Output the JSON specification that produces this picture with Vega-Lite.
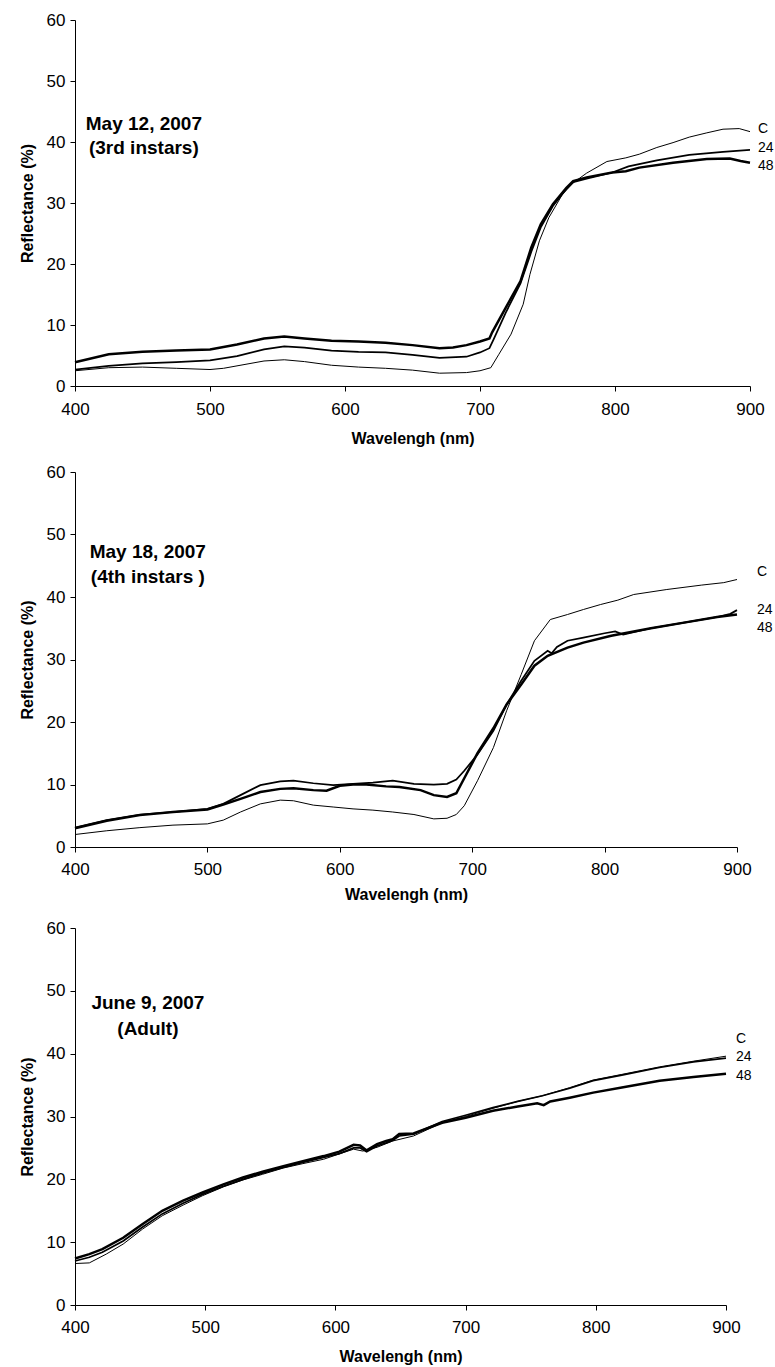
{
  "$schema": "https://vega.github.io/schema/vega-lite/v6.json",
  "background": "white",
  "padding": {"left": 19, "top": 11, "right": 2, "bottom": 2},
  "config": {
    "view": {"stroke": null},
    "font": "Liberation Sans",
    "concat": {"spacing": 17},
    "axis": {
      "grid": false,
      "domainColor": "#000",
      "tickColor": "#000",
      "tickSize": 5,
      "labelFont": "Liberation Sans",
      "labelFontSize": 17,
      "labelColor": "#000",
      "labelFlush": false,
      "titleFont": "Liberation Sans",
      "titleFontSize": 16,
      "titleFontWeight": "bold",
      "titleColor": "#000"
    },
    "text": {"font": "Liberation Sans", "color": "#000"}
  },
  "datasets": {
    "p1": [
      {"w":400,"r":2.5,"s":"C"},{"w":425,"r":3.0,"s":"C"},{"w":450,"r":3.1,"s":"C"},{"w":475,"r":2.9,"s":"C"},{"w":500,"r":2.7,"s":"C"},{"w":510,"r":2.9,"s":"C"},{"w":520,"r":3.3,"s":"C"},{"w":540,"r":4.1,"s":"C"},{"w":555,"r":4.3,"s":"C"},{"w":570,"r":4.0,"s":"C"},{"w":590,"r":3.4,"s":"C"},{"w":610,"r":3.1,"s":"C"},{"w":630,"r":2.9,"s":"C"},{"w":650,"r":2.6,"s":"C"},{"w":670,"r":2.1,"s":"C"},{"w":690,"r":2.2,"s":"C"},{"w":700,"r":2.5,"s":"C"},{"w":708,"r":3.0,"s":"C"},{"w":714,"r":5.2,"s":"C"},{"w":723,"r":8.5,"s":"C"},{"w":732,"r":13.4,"s":"C"},{"w":737,"r":18.3,"s":"C"},{"w":744,"r":23.8,"s":"C"},{"w":751,"r":27.6,"s":"C"},{"w":761,"r":31.4,"s":"C"},{"w":769,"r":33.3,"s":"C"},{"w":779,"r":34.9,"s":"C"},{"w":794,"r":36.8,"s":"C"},{"w":808,"r":37.4,"s":"C"},{"w":818,"r":38.0,"s":"C"},{"w":831,"r":39.1,"s":"C"},{"w":843,"r":39.9,"s":"C"},{"w":855,"r":40.8,"s":"C"},{"w":868,"r":41.5,"s":"C"},{"w":880,"r":42.1,"s":"C"},{"w":892,"r":42.2,"s":"C"},{"w":900,"r":41.7,"s":"C"},
      {"w":400,"r":2.7,"s":"24"},{"w":425,"r":3.3,"s":"24"},{"w":450,"r":3.7,"s":"24"},{"w":475,"r":3.9,"s":"24"},{"w":500,"r":4.2,"s":"24"},{"w":520,"r":4.9,"s":"24"},{"w":540,"r":6.0,"s":"24"},{"w":555,"r":6.5,"s":"24"},{"w":570,"r":6.3,"s":"24"},{"w":590,"r":5.8,"s":"24"},{"w":610,"r":5.6,"s":"24"},{"w":630,"r":5.5,"s":"24"},{"w":650,"r":5.1,"s":"24"},{"w":670,"r":4.6,"s":"24"},{"w":690,"r":4.8,"s":"24"},{"w":700,"r":5.5,"s":"24"},{"w":707,"r":6.2,"s":"24"},{"w":710,"r":7.6,"s":"24"},{"w":719,"r":12.0,"s":"24"},{"w":730,"r":16.8,"s":"24"},{"w":738,"r":22.0,"s":"24"},{"w":745,"r":26.0,"s":"24"},{"w":754,"r":29.5,"s":"24"},{"w":764,"r":32.3,"s":"24"},{"w":769,"r":33.4,"s":"24"},{"w":779,"r":34.0,"s":"24"},{"w":798,"r":35.0,"s":"24"},{"w":810,"r":36.0,"s":"24"},{"w":831,"r":37.0,"s":"24"},{"w":855,"r":37.9,"s":"24"},{"w":880,"r":38.4,"s":"24"},{"w":900,"r":38.7,"s":"24"},
      {"w":400,"r":3.9,"s":"48"},{"w":425,"r":5.2,"s":"48"},{"w":450,"r":5.6,"s":"48"},{"w":475,"r":5.8,"s":"48"},{"w":500,"r":6.0,"s":"48"},{"w":520,"r":6.8,"s":"48"},{"w":540,"r":7.8,"s":"48"},{"w":555,"r":8.1,"s":"48"},{"w":570,"r":7.8,"s":"48"},{"w":590,"r":7.4,"s":"48"},{"w":610,"r":7.3,"s":"48"},{"w":630,"r":7.1,"s":"48"},{"w":650,"r":6.7,"s":"48"},{"w":670,"r":6.2,"s":"48"},{"w":680,"r":6.3,"s":"48"},{"w":690,"r":6.7,"s":"48"},{"w":700,"r":7.3,"s":"48"},{"w":707,"r":7.8,"s":"48"},{"w":709,"r":8.8,"s":"48"},{"w":719,"r":12.8,"s":"48"},{"w":730,"r":17.2,"s":"48"},{"w":738,"r":22.7,"s":"48"},{"w":745,"r":26.5,"s":"48"},{"w":754,"r":29.8,"s":"48"},{"w":764,"r":32.5,"s":"48"},{"w":769,"r":33.6,"s":"48"},{"w":779,"r":34.2,"s":"48"},{"w":798,"r":35.0,"s":"48"},{"w":808,"r":35.2,"s":"48"},{"w":818,"r":35.8,"s":"48"},{"w":843,"r":36.6,"s":"48"},{"w":868,"r":37.2,"s":"48"},{"w":885,"r":37.3,"s":"48"},{"w":893,"r":36.9,"s":"48"},{"w":900,"r":36.6,"s":"48"}
    ],
    "p2": [
      {"w":400,"r":2.0,"s":"C"},{"w":424,"r":2.6,"s":"C"},{"w":449,"r":3.1,"s":"C"},{"w":474,"r":3.5,"s":"C"},{"w":500,"r":3.7,"s":"C"},{"w":512,"r":4.3,"s":"C"},{"w":525,"r":5.6,"s":"C"},{"w":540,"r":6.9,"s":"C"},{"w":555,"r":7.5,"s":"C"},{"w":565,"r":7.4,"s":"C"},{"w":580,"r":6.7,"s":"C"},{"w":595,"r":6.4,"s":"C"},{"w":610,"r":6.1,"s":"C"},{"w":625,"r":5.9,"s":"C"},{"w":640,"r":5.6,"s":"C"},{"w":656,"r":5.2,"s":"C"},{"w":671,"r":4.5,"s":"C"},{"w":681,"r":4.6,"s":"C"},{"w":688,"r":5.2,"s":"C"},{"w":694,"r":6.6,"s":"C"},{"w":704,"r":10.6,"s":"C"},{"w":716,"r":15.9,"s":"C"},{"w":726,"r":21.8,"s":"C"},{"w":737,"r":27.6,"s":"C"},{"w":747,"r":33.0,"s":"C"},{"w":759,"r":36.4,"s":"C"},{"w":772,"r":37.2,"s":"C"},{"w":784,"r":38.0,"s":"C"},{"w":797,"r":38.8,"s":"C"},{"w":810,"r":39.5,"s":"C"},{"w":822,"r":40.4,"s":"C"},{"w":847,"r":41.2,"s":"C"},{"w":873,"r":41.9,"s":"C"},{"w":890,"r":42.3,"s":"C"},{"w":900,"r":42.8,"s":"C"},
      {"w":400,"r":3.1,"s":"24"},{"w":424,"r":4.3,"s":"24"},{"w":449,"r":5.2,"s":"24"},{"w":474,"r":5.6,"s":"24"},{"w":500,"r":6.1,"s":"24"},{"w":512,"r":6.9,"s":"24"},{"w":525,"r":8.3,"s":"24"},{"w":540,"r":9.9,"s":"24"},{"w":555,"r":10.5,"s":"24"},{"w":565,"r":10.6,"s":"24"},{"w":580,"r":10.2,"s":"24"},{"w":595,"r":9.9,"s":"24"},{"w":610,"r":10.1,"s":"24"},{"w":625,"r":10.3,"s":"24"},{"w":640,"r":10.6,"s":"24"},{"w":656,"r":10.1,"s":"24"},{"w":671,"r":10.0,"s":"24"},{"w":681,"r":10.1,"s":"24"},{"w":688,"r":10.8,"s":"24"},{"w":694,"r":12.2,"s":"24"},{"w":704,"r":14.8,"s":"24"},{"w":716,"r":18.6,"s":"24"},{"w":726,"r":22.8,"s":"24"},{"w":737,"r":26.6,"s":"24"},{"w":747,"r":29.8,"s":"24"},{"w":757,"r":31.4,"s":"24"},{"w":760,"r":31.0,"s":"24"},{"w":764,"r":32.0,"s":"24"},{"w":772,"r":33.0,"s":"24"},{"w":784,"r":33.5,"s":"24"},{"w":800,"r":34.2,"s":"24"},{"w":808,"r":34.5,"s":"24"},{"w":814,"r":34.0,"s":"24"},{"w":835,"r":35.0,"s":"24"},{"w":860,"r":35.9,"s":"24"},{"w":885,"r":36.8,"s":"24"},{"w":895,"r":37.3,"s":"24"},{"w":900,"r":37.9,"s":"24"},
      {"w":400,"r":3.0,"s":"48"},{"w":424,"r":4.2,"s":"48"},{"w":449,"r":5.1,"s":"48"},{"w":474,"r":5.6,"s":"48"},{"w":500,"r":6.0,"s":"48"},{"w":512,"r":6.8,"s":"48"},{"w":525,"r":7.7,"s":"48"},{"w":540,"r":8.8,"s":"48"},{"w":555,"r":9.3,"s":"48"},{"w":565,"r":9.4,"s":"48"},{"w":580,"r":9.1,"s":"48"},{"w":590,"r":9.0,"s":"48"},{"w":600,"r":9.8,"s":"48"},{"w":610,"r":10.0,"s":"48"},{"w":620,"r":10.0,"s":"48"},{"w":635,"r":9.7,"s":"48"},{"w":645,"r":9.6,"s":"48"},{"w":661,"r":9.1,"s":"48"},{"w":671,"r":8.3,"s":"48"},{"w":681,"r":8.0,"s":"48"},{"w":688,"r":8.6,"s":"48"},{"w":694,"r":11.0,"s":"48"},{"w":704,"r":15.0,"s":"48"},{"w":716,"r":19.0,"s":"48"},{"w":726,"r":22.8,"s":"48"},{"w":737,"r":26.0,"s":"48"},{"w":747,"r":29.0,"s":"48"},{"w":757,"r":30.6,"s":"48"},{"w":772,"r":31.9,"s":"48"},{"w":784,"r":32.7,"s":"48"},{"w":805,"r":33.8,"s":"48"},{"w":835,"r":35.0,"s":"48"},{"w":860,"r":35.9,"s":"48"},{"w":885,"r":36.8,"s":"48"},{"w":900,"r":37.2,"s":"48"}
    ],
    "p3": [
      {"w":400,"r":6.6,"s":"C"},{"w":411,"r":6.7,"s":"C"},{"w":424,"r":8.1,"s":"C"},{"w":437,"r":9.7,"s":"C"},{"w":452,"r":12.1,"s":"C"},{"w":467,"r":14.2,"s":"C"},{"w":483,"r":15.9,"s":"C"},{"w":498,"r":17.4,"s":"C"},{"w":514,"r":18.8,"s":"C"},{"w":529,"r":19.9,"s":"C"},{"w":544,"r":20.8,"s":"C"},{"w":560,"r":21.8,"s":"C"},{"w":575,"r":22.5,"s":"C"},{"w":591,"r":23.2,"s":"C"},{"w":601,"r":23.9,"s":"C"},{"w":614,"r":24.8,"s":"C"},{"w":621,"r":24.5,"s":"C"},{"w":632,"r":25.1,"s":"C"},{"w":644,"r":26.1,"s":"C"},{"w":660,"r":26.9,"s":"C"},{"w":682,"r":29.0,"s":"C"},{"w":700,"r":30.0,"s":"C"},{"w":721,"r":31.3,"s":"C"},{"w":740,"r":32.4,"s":"C"},{"w":759,"r":33.3,"s":"C"},{"w":780,"r":34.6,"s":"C"},{"w":798,"r":35.8,"s":"C"},{"w":820,"r":36.7,"s":"C"},{"w":849,"r":37.9,"s":"C"},{"w":875,"r":38.8,"s":"C"},{"w":900,"r":39.6,"s":"C"},
      {"w":400,"r":7.0,"s":"24"},{"w":411,"r":7.6,"s":"24"},{"w":421,"r":8.4,"s":"24"},{"w":437,"r":10.2,"s":"24"},{"w":452,"r":12.4,"s":"24"},{"w":467,"r":14.5,"s":"24"},{"w":483,"r":16.2,"s":"24"},{"w":498,"r":17.6,"s":"24"},{"w":514,"r":18.9,"s":"24"},{"w":529,"r":20.0,"s":"24"},{"w":544,"r":21.0,"s":"24"},{"w":560,"r":21.9,"s":"24"},{"w":575,"r":22.7,"s":"24"},{"w":591,"r":23.5,"s":"24"},{"w":603,"r":24.1,"s":"24"},{"w":614,"r":25.0,"s":"24"},{"w":619,"r":25.0,"s":"24"},{"w":624,"r":24.4,"s":"24"},{"w":632,"r":25.3,"s":"24"},{"w":639,"r":25.8,"s":"24"},{"w":644,"r":26.2,"s":"24"},{"w":649,"r":26.9,"s":"24"},{"w":660,"r":27.2,"s":"24"},{"w":682,"r":29.2,"s":"24"},{"w":700,"r":30.2,"s":"24"},{"w":721,"r":31.4,"s":"24"},{"w":740,"r":32.4,"s":"24"},{"w":759,"r":33.3,"s":"24"},{"w":780,"r":34.5,"s":"24"},{"w":798,"r":35.7,"s":"24"},{"w":820,"r":36.6,"s":"24"},{"w":849,"r":37.8,"s":"24"},{"w":875,"r":38.7,"s":"24"},{"w":900,"r":39.3,"s":"24"},
      {"w":400,"r":7.4,"s":"48"},{"w":411,"r":8.1,"s":"48"},{"w":421,"r":8.9,"s":"48"},{"w":437,"r":10.7,"s":"48"},{"w":452,"r":12.9,"s":"48"},{"w":467,"r":15.0,"s":"48"},{"w":483,"r":16.6,"s":"48"},{"w":498,"r":17.9,"s":"48"},{"w":514,"r":19.2,"s":"48"},{"w":529,"r":20.3,"s":"48"},{"w":544,"r":21.2,"s":"48"},{"w":560,"r":22.1,"s":"48"},{"w":575,"r":22.9,"s":"48"},{"w":591,"r":23.7,"s":"48"},{"w":603,"r":24.4,"s":"48"},{"w":614,"r":25.5,"s":"48"},{"w":619,"r":25.4,"s":"48"},{"w":624,"r":24.6,"s":"48"},{"w":632,"r":25.6,"s":"48"},{"w":639,"r":26.1,"s":"48"},{"w":644,"r":26.4,"s":"48"},{"w":649,"r":27.2,"s":"48"},{"w":660,"r":27.3,"s":"48"},{"w":682,"r":29.0,"s":"48"},{"w":700,"r":29.8,"s":"48"},{"w":721,"r":30.9,"s":"48"},{"w":740,"r":31.6,"s":"48"},{"w":755,"r":32.1,"s":"48"},{"w":760,"r":31.8,"s":"48"},{"w":765,"r":32.4,"s":"48"},{"w":780,"r":33.0,"s":"48"},{"w":798,"r":33.8,"s":"48"},{"w":820,"r":34.6,"s":"48"},{"w":849,"r":35.7,"s":"48"},{"w":875,"r":36.3,"s":"48"},{"w":900,"r":36.8,"s":"48"}
    ],
    "l1": [{"w":900,"r":42.1,"t":"C"},{"w":900,"r":39.0,"t":"24"},{"w":900,"r":36.1,"t":"48"}],
    "l2": [{"w":900,"r":44.0,"t":"C"},{"w":900,"r":37.9,"t":"24"},{"w":900,"r":35.1,"t":"48"}],
    "l3": [{"w":900,"r":42.4,"t":"C"},{"w":900,"r":39.4,"t":"24"},{"w":900,"r":36.5,"t":"48"}],
    "a1": [{"w":451,"r":43.0,"t":"May 12, 2007"},{"w":451,"r":39.0,"t":"(3rd instars)"}],
    "a2": [{"w":455,"r":47.2,"t":"May 18, 2007"},{"w":455,"r":43.2,"t":"(4th instars )"}],
    "a3": [{"w":456,"r":48.0,"t":"June 9, 2007"},{"w":456,"r":44.0,"t":"(Adult)"}]
  },
  "vconcat": [
    {
      "width": 675, "height": 366,
      "layer": [
        {
          "data": {"name": "p1"},
          "mark": {"type": "line", "color": "#000"},
          "encoding": {
            "x": {"field": "w", "type": "quantitative", "scale": {"domain": [400, 900], "nice": false}, "axis": {"title": "Wavelengh (nm)", "values": [400,500,600,700,800,900], "labelPadding": 10, "titlePadding": 13}},
            "y": {"field": "r", "type": "quantitative", "scale": {"domain": [0, 60], "nice": false}, "axis": {"title": "Reflectance (%)", "values": [0,10,20,30,40,50,60], "labelPadding": 5, "titlePadding": 11}},
            "detail": {"field": "s"},
            "strokeWidth": {"field": "s", "type": "ordinal", "scale": {"domain": ["C","24","48"], "range": [1, 2.5, 3.5]}, "legend": null}
          }
        },
        {
          "data": {"name": "l1"},
          "mark": {"type": "text", "align": "left", "baseline": "middle", "dx": 8, "fontSize": 14},
          "encoding": {"x": {"field": "w", "type": "quantitative"}, "y": {"field": "r", "type": "quantitative"}, "text": {"field": "t"}}
        },
        {
          "data": {"name": "a1"},
          "mark": {"type": "text", "align": "center", "baseline": "middle", "fontSize": 19, "fontWeight": "bold"},
          "encoding": {"x": {"field": "w", "type": "quantitative"}, "y": {"field": "r", "type": "quantitative"}, "text": {"field": "t"}}
        }
      ]
    },
    {
      "width": 662, "height": 375,
      "layer": [
        {
          "data": {"name": "p2"},
          "mark": {"type": "line", "color": "#000"},
          "encoding": {
            "x": {"field": "w", "type": "quantitative", "scale": {"domain": [400, 900], "nice": false}, "axis": {"title": "Wavelengh (nm)", "values": [400,500,600,700,800,900], "labelPadding": 9, "titlePadding": 9}},
            "y": {"field": "r", "type": "quantitative", "scale": {"domain": [0, 60], "nice": false}, "axis": {"title": "Reflectance (%)", "values": [0,10,20,30,40,50,60], "labelPadding": 5, "titlePadding": 11}},
            "detail": {"field": "s"},
            "strokeWidth": {"field": "s", "type": "ordinal", "scale": {"domain": ["C","24","48"], "range": [1, 2.5, 3.5]}, "legend": null}
          }
        },
        {
          "data": {"name": "l2"},
          "mark": {"type": "text", "align": "left", "baseline": "middle", "dx": 20, "fontSize": 14},
          "encoding": {"x": {"field": "w", "type": "quantitative"}, "y": {"field": "r", "type": "quantitative"}, "text": {"field": "t"}}
        },
        {
          "data": {"name": "a2"},
          "mark": {"type": "text", "align": "center", "baseline": "middle", "fontSize": 19, "fontWeight": "bold"},
          "encoding": {"x": {"field": "w", "type": "quantitative"}, "y": {"field": "r", "type": "quantitative"}, "text": {"field": "t"}}
        }
      ]
    },
    {
      "width": 651, "height": 377,
      "layer": [
        {
          "data": {"name": "p3"},
          "mark": {"type": "line", "color": "#000"},
          "encoding": {
            "x": {"field": "w", "type": "quantitative", "scale": {"domain": [400, 900], "nice": false}, "axis": {"title": "Wavelengh (nm)", "values": [400,500,600,700,800,900], "labelPadding": 9, "titlePadding": 13}},
            "y": {"field": "r", "type": "quantitative", "scale": {"domain": [0, 60], "nice": false}, "axis": {"title": "Reflectance (%)", "values": [0,10,20,30,40,50,60], "labelPadding": 5, "titlePadding": 11}},
            "detail": {"field": "s"},
            "strokeWidth": {"field": "s", "type": "ordinal", "scale": {"domain": ["C","24","48"], "range": [1, 2.5, 3.5]}, "legend": null}
          }
        },
        {
          "data": {"name": "l3"},
          "mark": {"type": "text", "align": "left", "baseline": "middle", "dx": 10, "fontSize": 14},
          "encoding": {"x": {"field": "w", "type": "quantitative"}, "y": {"field": "r", "type": "quantitative"}, "text": {"field": "t"}}
        },
        {
          "data": {"name": "a3"},
          "mark": {"type": "text", "align": "center", "baseline": "middle", "fontSize": 19, "fontWeight": "bold"},
          "encoding": {"x": {"field": "w", "type": "quantitative"}, "y": {"field": "r", "type": "quantitative"}, "text": {"field": "t"}}
        }
      ]
    }
  ]
}
